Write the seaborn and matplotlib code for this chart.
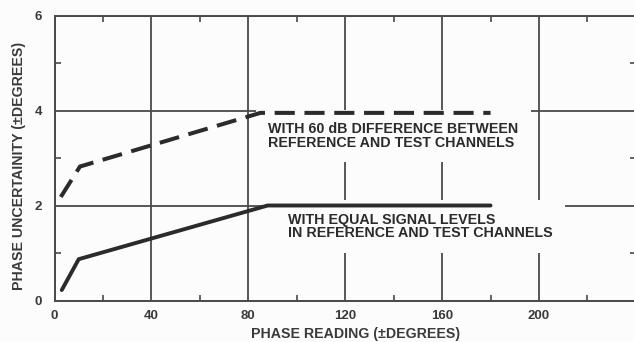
import matplotlib
matplotlib.use("Agg")
import matplotlib.pyplot as plt
from matplotlib.ticker import MultipleLocator
import pandas as pd
import seaborn as sns

# Phase uncertainty curves (degrees) vs. phase reading (degrees)
equal_x = [3, 10, 88, 180]
equal_y = [0.22, 0.87, 2.0, 2.0]
diff60_x = [2.6, 10.5, 85, 180]
diff60_y = [2.18, 2.82, 3.95, 3.95]

x_ticks = [0, 40, 80, 120, 160, 200]
y_ticks = [0, 2, 4, 6]

label_equal = "WITH EQUAL SIGNAL LEVELS\nIN REFERENCE AND TEST CHANNELS"
label_diff60 = "WITH 60 dB DIFFERENCE BETWEEN\nREFERENCE AND TEST CHANNELS"

ink = "#2b2b2b"
grid_ink = "#4a4a4a"
paper = "#fcfcfc"

sns.set_theme(style="ticks")
plt.rcParams["font.family"] = ["Liberation Sans", "DejaVu Sans"]
plt.rcParams["font.weight"] = "bold"

df = pd.concat([
    pd.DataFrame({"reading": equal_x, "uncertainty": equal_y, "case": "equal"}),
    pd.DataFrame({"reading": diff60_x, "uncertainty": diff60_y, "case": "diff60"}),
])

fig = plt.figure(figsize=(6.34, 3.42), dpi=100)
fig.patch.set_facecolor(paper)
ax = fig.add_axes([54.5 / 634, 1 - 300.5 / 342, 581.4 / 634, 285 / 342])
ax.set_facecolor(paper)

sns.lineplot(data=df[df["case"] == "equal"], x="reading", y="uncertainty",
             ax=ax, color=ink, lw=2.8, sort=False, zorder=5)
sns.lineplot(data=df[df["case"] == "diff60"], x="reading", y="uncertainty",
             ax=ax, color=ink, lw=2.9, sort=False, zorder=5)
ax.lines[-1].set_dashes((5.0, 2.4))

ax.set_xlim(0, 240)
ax.set_ylim(0, 6)
ax.set_xticks(x_ticks)
ax.set_yticks(y_ticks)
ax.xaxis.set_minor_locator(MultipleLocator(20))
ax.yaxis.set_minor_locator(MultipleLocator(1))

ax.grid(True, which="major", color=grid_ink, lw=1.3, zorder=1)
ax.set_axisbelow(True)

for s in ax.spines.values():
    s.set_visible(True)
    s.set_color(grid_ink)
    s.set_linewidth(1.4)

ax.tick_params(which="major", length=0, labelsize=9.5, labelcolor="#3a3a3a")
ax.tick_params(axis="y", which="major", pad=9)
ax.tick_params(axis="x", which="major", pad=7)
ax.tick_params(which="minor", direction="in", length=4, width=1.2,
               color=grid_ink, top=True, right=True, bottom=True, left=True)

ax.set_xlabel("PHASE READING (±DEGREES)", fontsize=10.2, fontweight="bold",
              color="#3a3a3a")
ax.set_ylabel("PHASE UNCERTAINITY (±DEGREES)", fontsize=10.2, fontweight="bold",
              color="#3a3a3a")
ax.xaxis.set_label_coords(0.5186, -0.092)
ax.yaxis.set_label_coords(-0.049, 0.472)

box = dict(boxstyle="square,pad=0.85", fc=paper, ec="none")
ax.text(88.2, 3.75, label_diff60, fontsize=10.3, fontweight="bold", color=ink,
        ha="left", va="top", linespacing=0.98, bbox=box, zorder=3)
ax.text(96.5, 1.85, label_equal, fontsize=10.3, fontweight="bold", color=ink,
        ha="left", va="top", linespacing=0.98, bbox=box, zorder=3)

fig.savefig("out.png", dpi=100, facecolor=fig.get_facecolor())
